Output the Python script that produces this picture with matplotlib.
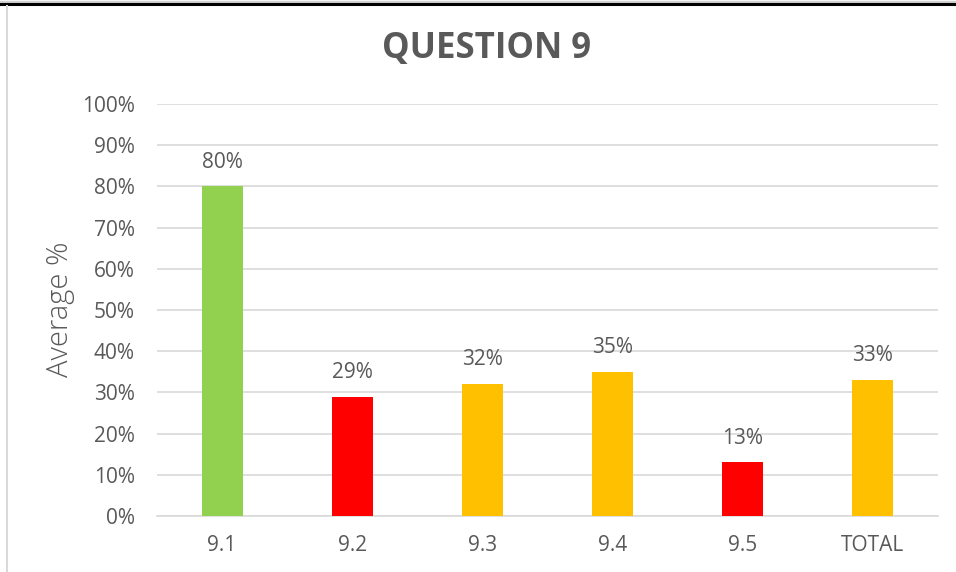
import matplotlib.pyplot as plt
from matplotlib.lines import Line2D
from matplotlib.ticker import PercentFormatter

categories = ["9.1", "9.2", "9.3", "9.4", "9.5", "TOTAL"]
values = [80, 29, 32, 35, 13, 33]
colors = ["#92D050", "#FF0000", "#FFC000", "#FFC000", "#FF0000", "#FFC000"]

plt.rcParams['font.family'] = ['Open Sans', 'DejaVu Sans']
txt = "#595959"

fig = plt.figure(figsize=(9.56, 5.72), dpi=100)
ax = fig.add_axes([157 / 956, 1 - 516 / 572, 781 / 956, 412 / 572])

x = range(len(categories))
ax.bar(x, values, width=0.315, color=colors, zorder=3)
for xi, v in zip(x, values):
    ax.annotate(f"{v}%", (xi, v), xytext=(0, 10), textcoords="offset points",
                ha="center", va="bottom", fontsize=15, color=txt)

ax.set_xlim(-0.5, len(categories) - 0.5)
ax.set_ylim(0, 100)
ax.set_yticks(range(0, 101, 10))
ax.yaxis.set_major_formatter(PercentFormatter(decimals=0))
ax.set_xticks(list(x))
ax.set_xticklabels(categories)
ax.tick_params(length=0, labelsize=15, labelcolor=txt)
ax.tick_params(axis="y", pad=16)
ax.tick_params(axis="x", pad=14)
ax.grid(axis="y", color="#D9D9D9", linewidth=1.2, zorder=0)
for s in ["top", "right", "left"]:
    ax.spines[s].set_visible(False)
ax.spines["bottom"].set_color("#D9D9D9")
ax.spines["bottom"].set_linewidth(1.2)

fig.text(60 / 956, 1 - 309 / 572, "Average %", rotation=90, ha="center", va="center",
         fontsize=21, fontweight="light", color=txt)
fig.text(487 / 956, 1 - 49 / 572, "QUESTION 9", ha="center",
         va="center", fontsize=25, fontweight="bold", color=txt)

# frame edges
fig.add_artist(Line2D([0, 1], [1 - 1.5 / 572] * 2, color="#D0D0D0", linewidth=2.5))
fig.add_artist(Line2D([0, 1], [1 - 4 / 572] * 2, color="black", linewidth=2.2))
fig.add_artist(Line2D([7 / 956] * 2, [0, 1 - 6 / 572], color="#D9D9D9", linewidth=1.5))

fig.savefig("out.png", dpi=100)
